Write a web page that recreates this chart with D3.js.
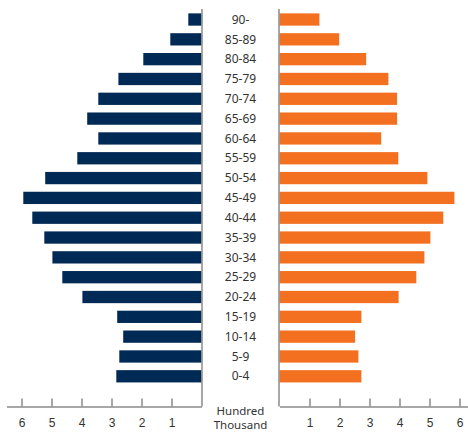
<!DOCTYPE html>
<html>
<head>
<meta charset="utf-8">
<script src="https://cdn.jsdelivr.net/npm/d3@7"></script>
<style>
  body { margin: 0; background: #fff; }
  svg { display: block; font-family: "Noto Sans", "Open Sans", sans-serif; }
  .axis path, .axis line { stroke: #8a8a8a; stroke-width: 1.5; }
  .axis text { fill: #333; font-size: 12px; }
</style>
</head>
<body>
<div id="chart"></div>
<script>
// age groups, top to bottom
var ageGroups = ["90-", "85-89", "80-84", "75-79", "70-74", "65-69", "60-64", "55-59",
  "50-54", "45-49", "40-44", "35-39", "30-34", "25-29", "20-24", "15-19", "10-14", "5-9", "0-4"];

// left side (navy), hundred thousand
var leftValues = [0.44, 1.04, 1.94, 2.77, 3.44, 3.81, 3.44, 4.14,
  5.21, 5.94, 5.64, 5.24, 4.97, 4.64, 3.97, 2.81, 2.61, 2.74, 2.84];

// right side (orange), hundred thousand
var rightValues = [1.33, 1.99, 2.89, 3.63, 3.92, 3.92, 3.39, 3.96,
  4.93, 5.83, 5.46, 5.03, 4.83, 4.56, 3.97, 2.73, 2.52, 2.63, 2.73];

var tickValues = [1, 2, 3, 4, 5, 6];
var unitLines = ["Hundred", "Thousand"];

var width = 468, height = 436;
var leftZero = 201.5, rightZero = 279.5;
var pxPerUnit = 30;
var axisY = 406.5;

var svg = d3.select("#chart").append("svg")
  .attr("width", width)
  .attr("height", height);

var y = d3.scaleBand()
  .domain(ageGroups)
  .range([9.6, 386.2])
  .paddingInner(0.38)
  .paddingOuter(0.19);

var xLeft = d3.scaleLinear()
  .domain([0, 6.5])
  .range([leftZero, leftZero - 6.5 * pxPerUnit]);

var xRight = d3.scaleLinear()
  .domain([0, 6.3])
  .range([rightZero, rightZero + 6.3 * pxPerUnit]);

// bars
svg.append("g").selectAll("rect")
  .data(leftValues)
  .join("rect")
  .attr("x", d => xLeft(d))
  .attr("y", (d, i) => y(ageGroups[i]))
  .attr("width", d => xLeft(0) - xLeft(d))
  .attr("height", y.bandwidth())
  .attr("fill", "#002a56");

svg.append("g").selectAll("rect")
  .data(rightValues)
  .join("rect")
  .attr("x", xRight(0))
  .attr("y", (d, i) => y(ageGroups[i]))
  .attr("width", d => xRight(d) - xRight(0))
  .attr("height", y.bandwidth())
  .attr("fill", "#f37021");

// vertical axis lines
svg.append("line")
  .attr("x1", leftZero + 0.5).attr("x2", leftZero + 0.5)
  .attr("y1", 9).attr("y2", axisY)
  .attr("stroke", "#8a8a8a").attr("stroke-width", 1.5);

svg.append("line")
  .attr("x1", rightZero - 0.5).attr("x2", rightZero - 0.5)
  .attr("y1", 9).attr("y2", axisY)
  .attr("stroke", "#8a8a8a").attr("stroke-width", 1.5);

// bottom axes, ticks point up
var gLeft = svg.append("g")
  .attr("class", "axis")
  .attr("transform", "translate(0," + axisY + ")")
  .call(d3.axisBottom(xLeft).tickValues(tickValues).tickSize(-8).tickSizeOuter(0).tickPadding(12).tickFormat(d3.format("d")));

var gRight = svg.append("g")
  .attr("class", "axis")
  .attr("transform", "translate(0," + axisY + ")")
  .call(d3.axisBottom(xRight).tickValues(tickValues).tickSize(-8).tickSizeOuter(0).tickPadding(12).tickFormat(d3.format("d")));

gLeft.selectAll(".tick text").attr("dy", "0.71em");
gRight.selectAll(".tick text").attr("dy", "0.71em");

// age labels in the middle
var mid = (leftZero + rightZero) / 2;
svg.append("g").selectAll("text")
  .data(ageGroups)
  .join("text")
  .attr("x", mid)
  .attr("y", d => y(d) + y.bandwidth() / 2)
  .attr("dy", "0.35em")
  .attr("text-anchor", "middle")
  .attr("fill", "#333")
  .attr("font-size", "12px")
  .text(d => d);

// unit label
svg.append("g").selectAll("text")
  .data(unitLines)
  .join("text")
  .attr("x", mid)
  .attr("y", (d, i) => 411 + i * 14)
  .attr("dy", "0.35em")
  .attr("text-anchor", "middle")
  .attr("fill", "#333")
  .attr("font-size", "11.5px")
  .text(d => d);
</script>
</body>
</html>
